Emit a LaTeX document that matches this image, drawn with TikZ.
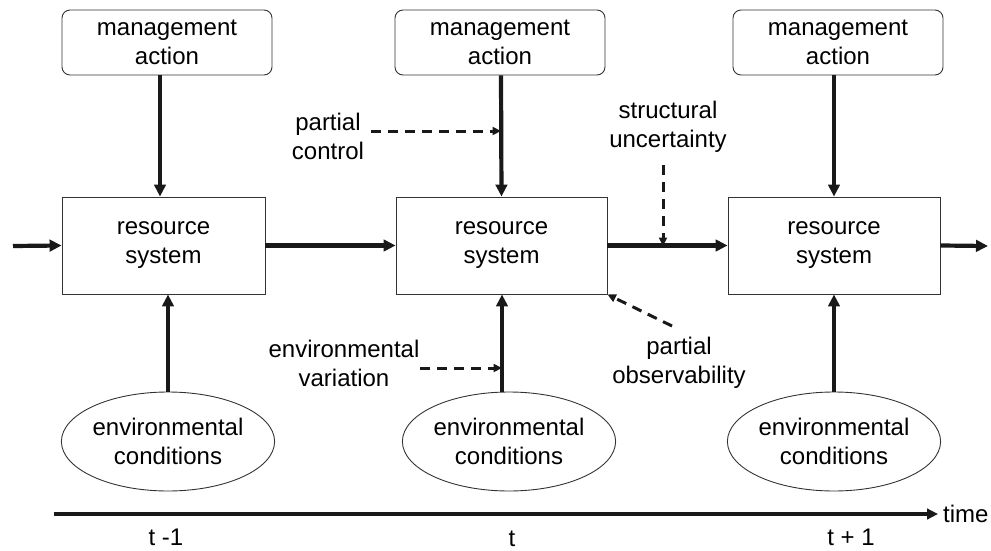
\documentclass[tikz,border=0pt]{standalone}
\usepackage{fontspec}
\setmainfont{Liberation Sans}
\usetikzlibrary{arrows.meta,shapes.geometric,calc}

\tikzset{
  txt/.style={font=\fontsize{24}{29}\selectfont, align=center, inner sep=0pt},
  mgmtbox/.style={txt, draw=black!80, line width=0.9pt, rounded corners=8pt,
    minimum width=210pt, minimum height=65pt},
  resbox/.style={txt, draw=black!80, line width=0.9pt,
    minimum width=208pt, minimum height=97pt},
  envell/.style={txt, ellipse, draw=black!80, line width=0.9pt,
    minimum width=210pt, minimum height=99pt, inner sep=0pt},
  flow/.style={draw=black!90, line width=4.2pt,
    -{Triangle[length=12pt,width=11.5pt]}},
  influence/.style={draw=black!90, line width=3pt, dash pattern=on 10pt off 7pt,
    -{Triangle[length=8.5pt,width=8pt]}},
}

\begin{document}
\begin{tikzpicture}[x=1pt,y=-1pt]
  \useasboundingbox (0,0) rectangle (991,551);

  % management actions
  \node[mgmtbox] (m1) at (167,42.5) {management\\action};
  \node[mgmtbox] (m2) at (500,42.5) {management\\action};
  \node[mgmtbox] (m3) at (838,42.5) {management\\action};

  % resource systems
  \node[resbox, minimum width=203pt] (r1) at (163.5,245.5) {resource\\system};
  \node[resbox, minimum width=211pt] (r2) at (501.5,245.5) {resource\\system};
  \node[resbox, minimum width=212pt] (r3) at (834,245.5) {resource\\system};

  % environmental conditions
  \node[envell] (e1) at (168,441.5) {environmental\\conditions};
  \node[envell] (e2) at (509,441.5) {environmental\\conditions};
  \node[envell] (e3) at (834,441.5) {environmental\\conditions};

  % uncertainty labels
  \node[txt] (pc) at (328,136) {partial\\control};
  \node[txt] (su) at (668,127) {structural\\uncertainty};
  \node[txt] (ev) at (344,363) {environmental\\variation};
  \node[txt] (po) at (679,363) {partial\\observability};

  % free ends of connectors
  \coordinate (in)  at (13,246);
  \coordinate (out) at (988,246);
  \coordinate (pcs) at (371,131);
  \coordinate (pct) at (501,131);
  \coordinate (sus) at (663,165);
  \coordinate (sut) at (663,246);
  \coordinate (evs) at (420,368);
  \coordinate (evt) at (502,368);
  \coordinate (pos) at (672,326);

  % state transitions
  \draw[flow] (in) -- (r1.west);
  \draw[flow] (r1.east) -- (r2.west);
  \draw[flow] (r2.east) -- (r3.west);
  \draw[flow] (r3.east) -- (out);

  % controls
  \draw[flow] ([xshift=-7pt]m1.south) -- ([xshift=-7pt]m1.south |- r1.north);
  \draw[flow] (m2.south -| 501,0) -- (r2.north);
  \draw[flow] (m3.south -| r3.north) -- (r3.north);

  % environmental drivers
  \draw[flow] (e1.north) -- (e1.north |- r1.south);
  \draw[flow] (e2.north -| 502,0) -- (r2.south -| 502,0);
  \draw[flow] (e3.north) -- (r3.south);

  % sources of uncertainty
  \draw[influence] (pcs) -- (pct);
  \draw[influence] (sus) -- (sut);
  \draw[influence] (evs) -- (evt);
  \draw[influence] (pos) -- (r2.south east);

  % time axis
  \coordinate (t0) at (54,514);
  \coordinate (t1) at (938,514);
  \draw[flow, -{Triangle[length=11pt,width=10.5pt]}] (t0) -- (t1);
  \node[txt, anchor=west] (time) at (943,514) {time};
  \node[txt] (tm) at (166,537) {t -1};
  \node[txt] (tc) at (512,539) {t};
  \node[txt] (tp) at (851,537) {t + 1};
\end{tikzpicture}
\end{document}
